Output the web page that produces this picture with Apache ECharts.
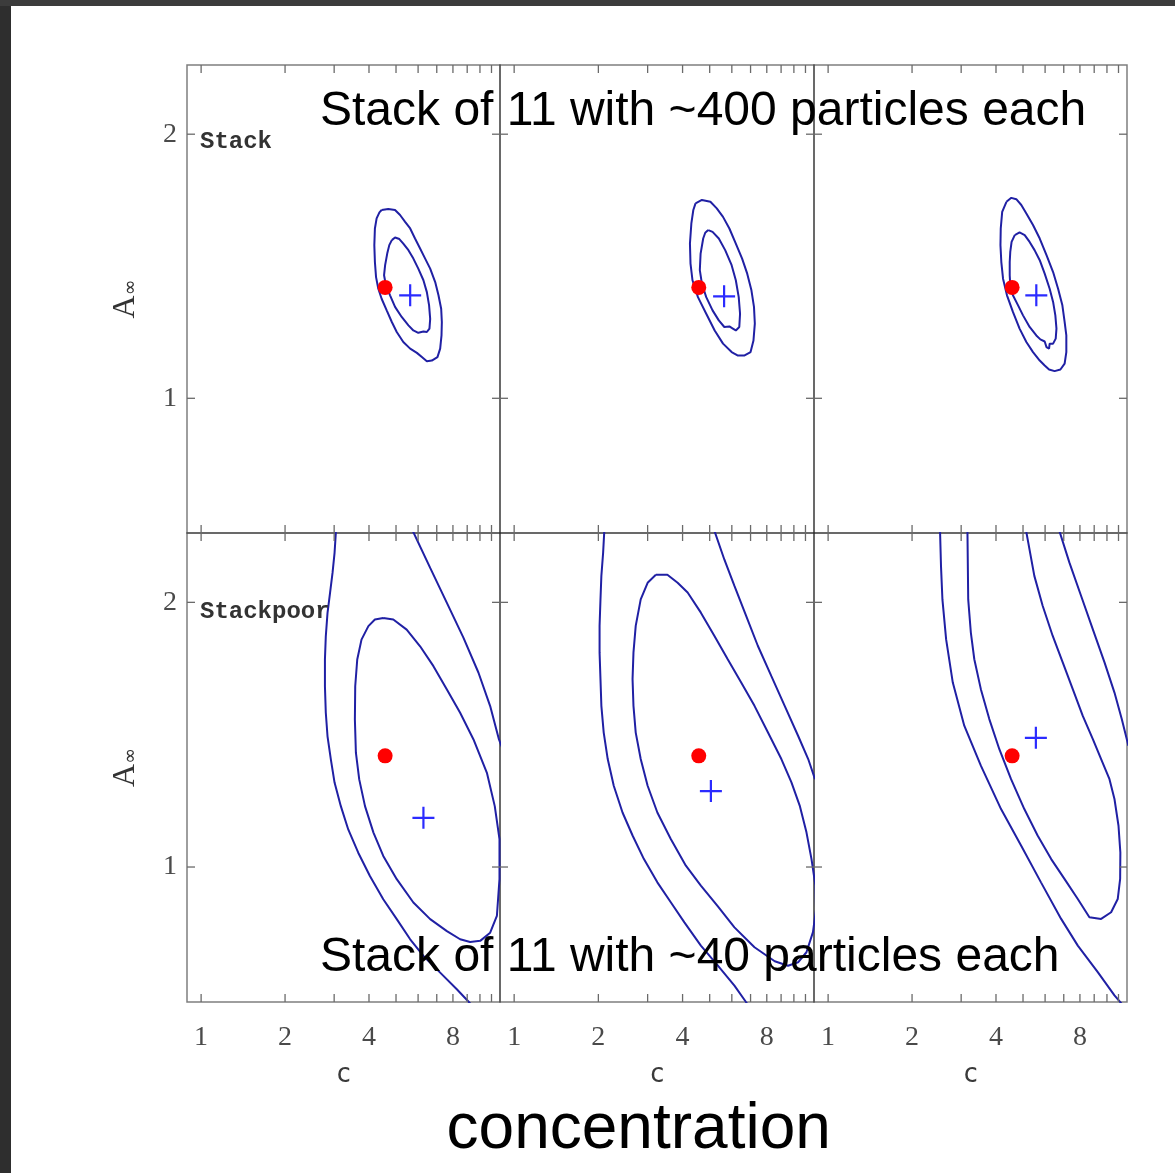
<!DOCTYPE html>
<html>
<head>
<meta charset="utf-8">
<script src="https://cdn.jsdelivr.net/npm/echarts@6.0.0/dist/echarts.min.js"></script>
<style>
html,body{margin:0;padding:0;background:#ffffff;}
#chart{width:1175px;height:1173px;}
</style>
</head>
<body>
<div id="chart"></div>
<script>
// ---------------- data ----------------
const xTickValues = [1, 2, 3, 4, 5, 6, 7, 8, 9, 10, 11];
const yTickValues = [1, 2];
const panelNames = ['Stack', 'Stackpoor'];
const trueValue = [4.57, 1.42];
const stackFits = [[5.62, 1.39], [5.63, 1.386], [5.58, 1.39]];
const poorFits = [[6.27, 1.186], [5.05, 1.287], [5.56, 1.488]];

// top row ("Stack"): closed 1-sigma / 2-sigma contours
const stack1Outer = [[4.44,1.713],[4.69,1.717],[4.96,1.713],[5.17,1.694],[5.39,1.668],[5.62,1.643],[5.85,1.605],[6.10,1.567],[6.36,1.529],[6.63,1.491],[6.91,1.440],[7.10,1.390],[7.26,1.339],[7.30,1.289],[7.28,1.238],[7.20,1.188],[7.04,1.156],[6.72,1.143],[6.45,1.140],[6.19,1.156],[5.94,1.172],[5.62,1.188],[5.31,1.213],[5.03,1.251],[4.83,1.289],[4.63,1.333],[4.44,1.377],[4.32,1.415],[4.24,1.459],[4.20,1.516],[4.18,1.580],[4.20,1.643],[4.26,1.681],[4.36,1.704],[4.44,1.713]];
const stack1Inner = [[4.83,1.599],[4.96,1.609],[5.14,1.603],[5.31,1.586],[5.54,1.561],[5.77,1.529],[6.01,1.491],[6.27,1.447],[6.45,1.402],[6.57,1.352],[6.63,1.301],[6.59,1.264],[6.45,1.251],[6.27,1.253],[6.01,1.248],[5.77,1.257],[5.54,1.276],[5.24,1.308],[4.96,1.346],[4.76,1.390],[4.60,1.428],[4.53,1.466],[4.57,1.504],[4.65,1.548],[4.73,1.580],[4.83,1.599]];
const stack2Outer = [[4.45,1.738],[4.69,1.751],[5.03,1.744],[5.30,1.719],[5.58,1.687],[5.88,1.643],[6.20,1.586],[6.53,1.529],[6.81,1.472],[7.05,1.409],[7.20,1.346],[7.25,1.283],[7.17,1.219],[7.00,1.175],[6.64,1.162],[6.31,1.162],[5.99,1.175],[5.58,1.207],[5.21,1.257],[4.86,1.320],[4.54,1.383],[4.34,1.447],[4.27,1.510],[4.25,1.586],[4.30,1.662],[4.37,1.713],[4.45,1.738]];
const stack2Inner = [[4.94,1.637],[5.12,1.630],[5.39,1.605],[5.68,1.561],[5.99,1.504],[6.20,1.447],[6.35,1.383],[6.42,1.320],[6.38,1.270],[6.20,1.257],[6.05,1.264],[5.88,1.272],[5.64,1.270],[5.39,1.295],[5.12,1.333],[4.86,1.383],[4.69,1.434],[4.61,1.485],[4.64,1.548],[4.74,1.605],[4.82,1.627],[4.94,1.637]];
const stack3Outer = [[4.36,1.744],[4.54,1.759],[4.73,1.754],[4.93,1.732],[5.14,1.700],[5.43,1.656],[5.74,1.605],[6.07,1.542],[6.41,1.478],[6.68,1.415],[6.92,1.352],[7.05,1.289],[7.15,1.238],[7.15,1.175],[7.05,1.131],[6.81,1.109],[6.49,1.103],[6.20,1.109],[5.98,1.124],[5.74,1.143],[5.43,1.175],[5.14,1.213],[4.86,1.264],[4.60,1.327],[4.38,1.390],[4.24,1.453],[4.18,1.516],[4.15,1.580],[4.16,1.643],[4.21,1.706],[4.36,1.744]];
const stack3Inner = [[4.67,1.618],[4.86,1.628],[5.07,1.618],[5.28,1.592],[5.50,1.561],[5.74,1.523],[5.98,1.472],[6.23,1.415],[6.41,1.365],[6.53,1.314],[6.59,1.264],[6.55,1.226],[6.41,1.207],[6.23,1.207],[6.20,1.188],[6.07,1.194],[5.98,1.215],[5.77,1.223],[5.58,1.238],[5.28,1.270],[5.00,1.314],[4.80,1.352],[4.60,1.390],[4.50,1.428],[4.48,1.466],[4.48,1.516],[4.50,1.554],[4.55,1.592],[4.67,1.618]];

// bottom row ("Stackpoor"): contours cut by the panel frame
const poor1Inner = [[4.50,1.941],[4.89,1.935],[5.46,1.897],[6.10,1.834],[6.81,1.759],[7.61,1.671],[8.49,1.583],[9.48,1.482],[10.59,1.356],[11.30,1.230],[11.75,1.105],[11.75,0.954],[11.50,0.815],[10.88,0.752],[10.02,0.721],[9.22,0.717],[8.49,0.727],[7.61,0.758],[6.63,0.803],[5.77,0.866],[5.03,0.954],[4.50,1.042],[4.15,1.130],[3.87,1.230],[3.69,1.331],[3.59,1.432],[3.56,1.557],[3.57,1.683],[3.63,1.784],[3.76,1.859],[3.98,1.910],[4.20,1.935],[4.50,1.941]];
const poor1Left = [[3.045,2.27],[3.01,2.187],[2.96,2.111],[2.90,2.036],[2.84,1.960],[2.80,1.872],[2.78,1.784],[2.78,1.683],[2.80,1.583],[2.84,1.494],[2.92,1.406],[3.01,1.319],[3.17,1.230],[3.37,1.142],[3.66,1.054],[4.03,0.966],[4.50,0.878],[5.03,0.803],[5.62,0.727],[6.27,0.664],[7.20,0.601],[8.26,0.538],[9.09,0.492],[9.61,0.463]];
const poor1Right = [[5.67,2.282],[6.63,2.130],[7.61,1.998],[8.73,1.866],[9.88,1.734],[10.88,1.608],[11.7,1.482],[12.0,1.452]];
const poor2Inner = [[3.21,2.104],[3.53,2.104],[3.84,2.074],[4.17,2.037],[4.65,1.961],[5.20,1.873],[5.80,1.785],[6.48,1.697],[7.23,1.609],[8.08,1.508],[9.02,1.408],[9.80,1.320],[10.49,1.232],[11.09,1.131],[11.56,1.030],[11.94,0.930],[12.0,0.840],[11.7,0.754],[11.09,0.678],[10.35,0.640],[9.53,0.627],[8.54,0.644],[7.23,0.697],[6.13,0.772],[5.34,0.852],[4.65,0.930],[4.11,1.005],[3.63,1.106],[3.25,1.206],[3.00,1.307],[2.834,1.408],[2.72,1.508],[2.67,1.609],[2.65,1.710],[2.67,1.810],[2.72,1.911],[2.834,2.011],[3.00,2.074],[3.21,2.104]];
const poor2Left = [[2.10,2.27],[2.08,2.188],[2.05,2.100],[2.035,2.011],[2.02,1.911],[2.02,1.810],[2.035,1.710],[2.05,1.609],[2.09,1.508],[2.16,1.408],[2.27,1.307],[2.44,1.206],[2.65,1.119],[2.91,1.030],[3.25,0.942],[3.63,0.867],[4.06,0.791],[4.65,0.703],[5.34,0.628],[6.13,0.552],[6.75,0.489],[7.04,0.463]];
const poor2Right = [[5.20,2.27],[5.64,2.162],[6.13,2.062],[6.75,1.949],[7.43,1.836],[8.30,1.722],[9.27,1.609],[10.35,1.496],[11.25,1.408],[11.9,1.332]];
const poor3Left = [[2.52,2.27],[2.54,2.137],[2.57,2.011],[2.65,1.860],[2.80,1.697],[3.078,1.534],[3.53,1.383],[4.17,1.219],[4.92,1.081],[5.80,0.942],[6.85,0.804],[7.86,0.703],[9.27,0.603],[10.64,0.515],[11.30,0.483]];
const poor3Inner = [[3.16,2.27],[3.18,2.011],[3.25,1.886],[3.344,1.785],[3.53,1.672],[3.785,1.559],[4.112,1.445],[4.53,1.332],[5.054,1.219],[5.64,1.119],[6.31,1.030],[7.04,0.955],[7.86,0.879],[8.65,0.810],[9.53,0.804],[10.35,0.829],[10.93,0.879],[11.15,0.955],[11.17,1.055],[11.0,1.156],[10.64,1.257],[10.21,1.332],[9.53,1.408],[8.90,1.483],[8.19,1.571],[7.54,1.672],[6.94,1.773],[6.39,1.873],[5.88,1.987],[5.49,2.100],[5.13,2.27]];
const poor3Right = [[6.75,2.27],[7.335,2.150],[8.08,2.024],[8.90,1.898],[9.80,1.773],[10.64,1.659],[11.30,1.559],[11.94,1.458]];

const panelContours = [
  [stack1Outer, stack1Inner], [stack2Outer, stack2Inner], [stack3Outer, stack3Inner],
  [poor1Left, poor1Right, poor1Inner], [poor2Left, poor2Right, poor2Inner], [poor3Left, poor3Inner, poor3Right]
];

// ---------------- layout / style ----------------
const X_MIN = 0.89, X_MAX = 11.8, Y_MIN = 0.49, Y_MAX = 2.262;
const colLefts = [187, 500, 814];
const colWidths = [313, 314, 313];
const rowTops = [65, 533];
const rowHeights = [468, 469];
const contourColor = '#2020a4';
const tickColor = '#6a6a6a';
const TICK = 8;

const grids = [], xAxes = [], yAxes = [], series = [];
for (let r = 0; r < 2; r++) {
  for (let c = 0; c < 3; c++) {
    const gi = r * 3 + c;
    grids.push({
      left: colLefts[c], top: rowTops[r], width: colWidths[c], height: rowHeights[r],
      show: true, borderColor: 'rgba(40,40,40,0.6)', borderWidth: 1.5,
      backgroundColor: 'transparent', containLabel: false, outerBoundsMode: 'none'
    });
    xAxes.push({
      gridIndex: gi, type: 'log', logBase: 2, min: X_MIN, max: X_MAX,
      axisLine: { show: false }, axisTick: { show: false },
      splitLine: { show: false }, minorTick: { show: false },
      axisLabel: {
        show: r === 1, showMinLabel: false, showMaxLabel: false, margin: 22,
        color: '#4a4a4a', fontFamily: 'Liberation Serif', fontSize: 28,
        formatter: v => String(Math.round(v))
      },
      name: r === 1 ? 'c' : '', nameLocation: 'middle', nameGap: 60,
      nameTextStyle: { color: '#3a3a3a', fontFamily: 'DejaVu Sans Mono', fontSize: 26 }
    });
    yAxes.push({
      gridIndex: gi, type: 'value', min: Y_MIN, max: Y_MAX,
      axisLine: { show: false }, axisTick: { show: false }, splitLine: { show: false },
      axisLabel: {
        show: c === 0, customValues: yTickValues, margin: 10,
        color: '#4a4a4a', fontFamily: 'Liberation Serif', fontSize: 28
      },
      name: c === 0 ? '{a|A}{s|∞}' : '', nameLocation: 'middle', nameRotate: 90, nameGap: 46,
      nameTextStyle: {
        rich: {
          a: { fontFamily: 'Liberation Serif', fontSize: 32, color: '#333', lineHeight: 30 },
          s: { fontFamily: 'DejaVu Sans', fontSize: 19, color: '#333', lineHeight: 30, verticalAlign: 'bottom', padding: [12, 0, 0, 0] }
        }
      }
    });
    // contours
    panelContours[gi].forEach(d => {
      series.push({
        type: 'line', xAxisIndex: gi, yAxisIndex: gi, data: d,
        showSymbol: false, symbol: 'none', silent: true, z: 3, clip: true,
        lineStyle: { color: contourColor, width: 2 }
      });
    });
    // true value
    series.push({
      type: 'scatter', xAxisIndex: gi, yAxisIndex: gi, data: [trueValue],
      symbol: 'circle', symbolSize: 15, itemStyle: { color: '#ff0000', opacity: 1 }, z: 4, silent: true
    });
    // best fit
    series.push({
      type: 'scatter', xAxisIndex: gi, yAxisIndex: gi, data: [r === 0 ? stackFits[c] : poorFits[c]],
      symbol: 'path://M9,0h2v20h-2z M0,9h20v2h-20z', symbolSize: 22,
      itemStyle: { color: '#2b2bff', opacity: 1 }, z: 5, silent: true
    });
    // x ticks (top and bottom frame, inward)
    series.push({
      type: 'custom', xAxisIndex: gi, yAxisIndex: gi, silent: true, z: 6, clip: false,
      data: xTickValues.map(v => [v, Y_MIN]),
      renderItem: (params, api) => {
        const v = api.value(0);
        const pt = api.coord([v, Y_MAX]);
        const pb = api.coord([v, Y_MIN]);
        const st = { stroke: tickColor, lineWidth: 1.3 };
        return { type: 'group', children: [
          { type: 'line', shape: { x1: pt[0], y1: pt[1], x2: pt[0], y2: pt[1] + TICK }, style: st },
          { type: 'line', shape: { x1: pb[0], y1: pb[1], x2: pb[0], y2: pb[1] - TICK }, style: st }
        ]};
      }
    });
    // y ticks (left and right frame, inward)
    series.push({
      type: 'custom', xAxisIndex: gi, yAxisIndex: gi, silent: true, z: 6, clip: false,
      data: yTickValues.map(v => [X_MIN, v]),
      renderItem: (params, api) => {
        const v = api.value(1);
        const pl = api.coord([X_MIN, v]);
        const pr = api.coord([X_MAX, v]);
        const st = { stroke: tickColor, lineWidth: 1.3 };
        return { type: 'group', children: [
          { type: 'line', shape: { x1: pl[0], y1: pl[1], x2: pl[0] + TICK, y2: pl[1] }, style: st },
          { type: 'line', shape: { x1: pr[0], y1: pr[1], x2: pr[0] - TICK, y2: pr[1] }, style: st }
        ]};
      }
    });
  }
}

const graphic = [
  { type: 'rect', shape: { x: 0, y: 0, width: 11, height: 1173 }, style: { fill: '#2e2e2e' }, z: 100 },
  { type: 'rect', shape: { x: 0, y: 0, width: 1175, height: 6 }, style: { fill: '#3c3c3c' }, z: 100 },
  { type: 'text', x: 200, y: 142, style: { text: panelNames[0], fill: '#333', font: 'bold 24px "Liberation Mono"', verticalAlign: 'middle', align: 'left' }, z: 50 },
  { type: 'text', x: 200, y: 612, style: { text: panelNames[1], fill: '#333', font: 'bold 24px "Liberation Mono"', verticalAlign: 'middle', align: 'left' }, z: 50 },
  { type: 'text', x: 320, y: 112, style: { text: 'Stack of 11 with ~400 particles each', fill: '#000', font: '48px "Liberation Sans"', verticalAlign: 'middle', align: 'left' }, z: 50 },
  { type: 'text', x: 320, y: 958, style: { text: 'Stack of 11 with ~40 particles each', fill: '#000', font: '48px "Liberation Sans"', verticalAlign: 'middle', align: 'left' }, z: 50 },
  { type: 'text', x: 638.7, y: 1130, style: { text: 'concentration', fill: '#000', font: '64px "Liberation Sans"', verticalAlign: 'middle', align: 'center' }, z: 50 }
];

const chart = echarts.init(document.getElementById('chart'), null, { renderer: 'canvas' });
chart.setOption({
  animation: false,
  backgroundColor: '#ffffff',
  grid: grids, xAxis: xAxes, yAxis: yAxes, series: series, graphic: graphic
});
</script>
</body>
</html>
